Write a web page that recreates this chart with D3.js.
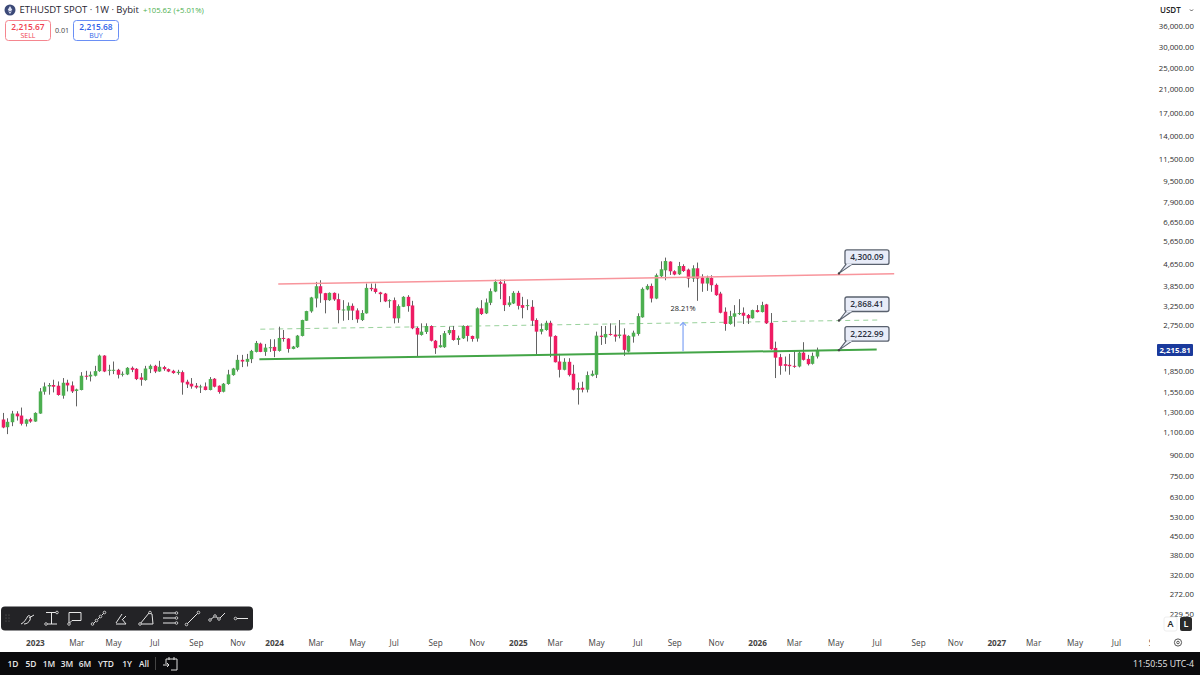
<!DOCTYPE html>
<html><head><meta charset="utf-8">
<script src="https://cdn.jsdelivr.net/npm/d3@7"></script>
<style>
html,body{margin:0;padding:0;background:#fff;overflow:hidden}
svg{display:block}
text{font-family:"Open Sans","Noto Sans",sans-serif}
</style></head><body><svg id="c" width="1200" height="675"></svg>
<script>
// Weekly candles: open, high, low, close
const opens=[1219,1141,1191,1283,1261,1175,1222,1198,1283,1548,1620,1640,1630,1496,1672,1634,1558,1571,1776,1765,1776,1848,2112,1853,1858,1869,1791,1796,1901,1885,1750,1711,1880,1934,1842,1913,1880,1853,1817,1832,1687,1658,1630,1612,1620,1571,1731,1630,1548,1654,1786,1869,2036,2002,2048,2180,
2341,2180,2262,2276,2199,2458,2445,2237,2270,2501,2850,3089,3452,3835,3613,3402,3622,3431,3123,3110,3240,3115,2867,3037,3780,3760,3635,3600,3373,3402,2910,3213,3500,3250,2678,2522,2588,2724,2400,2270,2270,2560,2632,2416,2450,2724,2501,2445,
3170,3037,3325,3665,3969,3924,3260,3307,3622,3260,3232,3213,2867,2595,2632,2800,2501,2007,1869,2002,1806,1575,1602,1575,1776,1791,2507,2470,2544,2530,2501,2530,2185,2487,2544,2935,3730,3845,3450,4178,4398,4740,4361,4250,4563,4424,4095,4474,4130,3924,4118,3880,3600,3080,2771,2950,3020,3053,2993,2910,3123,3071,3280,2800,2256,2084,1962,1951,1934,1923,2166,2053,1968,2095];
const highs=[1290,1232,1313,1309,1351,1226,1237,1297,1598,1676,1668,1716,1691,1741,1716,1691,1589,1832,1853,1842,1934,2130,2120,1951,2007,1885,1842,1913,1923,1896,1817,1934,1956,1951,2019,1934,1890,1869,1869,1858,1716,1741,1668,1644,1676,1756,1741,1634,1668,1869,1901,2125,2125,2143,2218,2395,
2361,2335,2430,2430,2708,2632,2452,2295,2522,2875,3105,3500,3979,4037,3622,3635,3635,3600,3402,3335,3307,3170,3123,3924,3924,3924,3655,3620,3425,3480,3280,3520,3551,3382,2708,2787,2787,2740,2416,2522,2610,2708,2724,2507,2740,2735,2507,3196,
3402,3450,3760,4060,4060,4060,3521,3675,3685,3500,3425,3402,2910,2787,2850,2850,2515,2143,2065,2065,1951,1676,1687,1842,1858,2595,2724,2724,2787,2735,2867,2670,2515,2617,3037,3795,3901,3924,4275,4752,4905,4752,4398,4725,4631,4462,4591,4700,4250,4200,4214,3924,3655,3196,3105,3260,3431,3196,3020,3135,3260,3355,3295,3045,2381,2143,2095,2143,2205,2190,2370,2125,2166,2262];
const lows=[1131,1075,1151,1208,1158,1148,1185,1195,1280,1509,1509,1539,1496,1458,1552,1531,1365,1566,1716,1691,1765,1837,1832,1781,1801,1735,1765,1786,1832,1711,1630,1701,1817,1817,1837,1853,1832,1806,1791,1509,1598,1589,1589,1531,1566,1566,1606,1522,1539,1644,1776,1842,1913,1923,1980,2170,
2175,2107,2180,2084,2185,2381,2166,2230,2256,2490,2845,3053,3196,3325,3037,3382,3380,2787,2850,2867,2867,2800,2843,3030,3675,3600,3345,3345,3185,2787,2800,3205,3080,2650,2095,2507,2544,2385,2143,2262,2256,2522,2400,2315,2435,2385,2381,2381,
2993,3019,3260,3644,3431,3097,3213,3290,3140,2910,3123,2724,2107,2535,2615,2084,1990,1750,1860,1765,1566,1386,1539,1539,1765,1741,2315,2335,2507,2381,2450,2107,2170,2361,2507,2925,3706,3335,3431,4150,4037,4225,4214,4225,4335,3793,3980,3382,3655,3685,3655,3530,3037,2615,2755,2708,2993,2771,2771,2900,3060,3060,2771,2218,1741,1791,1842,1791,1901,1908,2024,1940,1955,2060];
const closes=[1138,1195,1283,1253,1175,1219,1198,1290,1552,1620,1640,1616,1505,1672,1634,1552,1579,1776,1765,1791,1848,2112,1842,1869,1869,1791,1806,1901,1869,1726,1716,1890,1934,1842,1918,1880,1842,1817,1837,1676,1648,1620,1606,1620,1571,1726,1616,1544,1658,1796,1890,2036,2007,2053,2199,2355,
2180,2262,2270,2199,2458,2437,2237,2282,2507,2867,3097,3482,3835,3604,3402,3622,3422,3123,3140,3240,3110,2885,3045,3780,3738,3650,3582,3365,3402,2910,3232,3500,3232,2671,2530,2595,2724,2400,2250,2309,2560,2632,2416,2458,2724,2501,2437,3170,
3019,3335,3675,3980,3915,3260,3335,3622,3240,3185,3260,2850,2595,2655,2800,2487,1995,1869,2002,1786,1575,1598,1575,1786,1806,2507,2479,2544,2522,2487,2530,2218,2501,2572,2967,3748,3845,3450,4214,4436,4765,4361,4240,4563,4370,4095,4474,4095,3924,4130,3868,3551,3053,2771,2967,3037,3045,2975,2910,3123,3071,3260,2787,2230,2075,1934,1934,1928,1918,2166,2036,1962,2107,2216];

// Price axis
const priceTicks=[36000,30000,25000,21000,17000,14000,11500,9500,7900,6650,5650,4650,3850,3250,2750,1850,1550,1300,1100,900,750,630,530,450,380,320,272,229.5];
const lastPrice=2215.81;
// Time axis: label and week number (bars since the first one)
const timeLabels=["2023","Mar","May","Jul","Sep","Nov","2024","Mar","May","Jul","Sep","Nov","2025","Mar","May","Jul","Sep","Nov","2026","Mar","May","Jul","Sep","Nov","2027","Mar","May","Jul","Se"];
const timeWeeks=[7,16,24,33,42,51,59,68,77,85,94,103,112,120,129,138,146,155,164,172,181,190,199,207,216,224,233,242,250];
// Drawings: [start week, start price, end week, end price]
const resistance=[59.9,3905,193.8,4270];
const midDashed=[56,2650,190.4,2868];
const support=[55.8,2045,190,2224];
const callouts=[["4,300.09",4300.09],["2,868.41",2868.41],["2,222.99",2222.99]];
const calloutWeek=181.8;
const measure={week:147.9,from:2190,to:2805,label:"28.21%",labelPrice:3177};
const rangeButtons=["1D","5D","1M","3M","6M","YTD","1Y","All"];
const rangeX=[13,31,49,67,85,106,127,144];

const svg=d3.select("#c");
const x=d3.scaleLinear().domain([0,100]).range([2.7,462.7]);
const y=d3.scaleLog().domain([36000,229.5]).range([25.8,613.7]);
const UP="#4caf50",DOWN="#ee1c63",WICK="#636363";
const candles=opens.map((o,i)=>({i,o,h:highs[i],l:lows[i],c:closes[i]}));

const lineGen=(g,a,color,w,dash,op)=>g.append("line").attr("x1",x(a[0])).attr("y1",y(a[1])).attr("x2",x(a[2])).attr("y2",y(a[3]))
  .attr("stroke",color).attr("stroke-width",w).attr("stroke-dasharray",dash||null).attr("opacity",op||1);
const back=svg.append("g");
lineGen(back,midDashed,"#8fce92",1,"5 4",.9);

const cg=svg.append("g");
cg.selectAll("line.w").data(candles).join("line").attr("class","w")
  .attr("x1",d=>Math.round(x(d.i))+.5).attr("x2",d=>Math.round(x(d.i))+.5)
  .attr("y1",d=>y(d.h)).attr("y2",d=>y(d.l)).attr("stroke",WICK).attr("stroke-width",1);
cg.selectAll("rect").data(candles).join("rect")
  .attr("x",d=>Math.round(x(d.i))+.5-1.75).attr("width",3.5)
  .attr("y",d=>y(Math.max(d.o,d.c)))
  .attr("height",d=>Math.max(1,Math.abs(y(d.o)-y(d.c))))
  .attr("fill",d=>d.c>=d.o?UP:DOWN);

const front=svg.append("g");
lineGen(front,resistance,"#f8959c",1.5,null,1);
lineGen(front,support,"#43a547",2,null,1);

// measure arrow
const ax=x(measure.week);
front.append("line").attr("x1",ax).attr("x2",ax).attr("y1",y(measure.from)).attr("y2",y(measure.to)).attr("stroke","#7fa3f5").attr("stroke-width",1.2);
front.append("path").attr("d",`M${ax-3},${y(measure.to)+3}L${ax},${y(measure.to)}L${ax+3},${y(measure.to)+3}`).attr("fill","none").attr("stroke","#7fa3f5").attr("stroke-width",1.2);
front.append("text").attr("x",ax).attr("y",y(measure.labelPrice)).attr("dy","0.35em").attr("text-anchor","middle").attr("font-size",7.4).attr("fill","#222").text(measure.label);

// price callouts
const cax=x(calloutWeek);
callouts.forEach(([t,v])=>{
  const py=y(v)+.5;
  const top=py-23.5, h=14.5, bx=cax+6, bw=44;
  const g=front.append("g");
  g.append("path").attr("d",`M${cax},${py}L${bx+1},${top+h}L${bx+7},${top+h}Z`).attr("fill","#e8ecf8").attr("stroke","#59616e").attr("stroke-width",1.1);
  g.append("rect").attr("x",bx).attr("y",top).attr("width",bw).attr("height",h).attr("rx",2).attr("fill","#e8ecf8").attr("stroke","#59616e").attr("stroke-width",1.3);
  g.append("path").attr("d",`M${bx+1.5},${top+h}L${bx+6.5},${top+h}`).attr("stroke","#e8ecf8").attr("stroke-width",1.6);
  g.append("circle").attr("cx",cax).attr("cy",py).attr("r",1.2).attr("fill","#444");
  g.append("text").attr("x",bx+bw/2).attr("y",top+h/2).attr("dy","0.36em").attr("text-anchor","middle").attr("font-size",8.4).attr("font-weight",600).attr("fill","#2b3040").text(t);
});

// right price axis
const axisG=svg.append("g").attr("transform","translate(1194,0)")
 .call(d3.axisLeft(y).tickValues(priceTicks).tickSize(0).tickPadding(0).tickFormat(d3.format(",.2f")));
axisG.select(".domain").remove();
axisG.selectAll("text").attr("font-size",7.8).attr("dy","0.35em").attr("fill","#2e2e2e").attr("font-family",'Roboto,sans-serif');

// time axis
const tg=svg.append("g").attr("transform","translate(0,646)")
 .call(d3.axisBottom(x).tickValues(timeWeeks).tickSize(0).tickPadding(0).tickFormat((d,i)=>timeLabels[i]));
tg.select(".domain").remove();
tg.selectAll("text").attr("dy","0").attr("font-size",8.2).attr("fill","#444").attr("font-family",'"Open Sans",sans-serif')
  .attr("font-weight",(d,i)=>/^\d/.test(timeLabels[i])?700:400);

// white panel hiding the cut price label
svg.append("rect").attr("x",1150).attr("y",617).attr("width",50).attr("height",36).attr("fill","#fff");

// last price tag
svg.append("rect").attr("x",1157).attr("y",y(lastPrice)-6).attr("width",36).attr("height",12).attr("rx",1).attr("fill","#1a3a9c");
svg.append("text").attr("x",1175).attr("y",y(lastPrice)).attr("dy","0.36em").attr("text-anchor","middle").attr("font-size",7.8).attr("font-weight",700).attr("font-family","Roboto,sans-serif").attr("fill","#fff").text(d3.format(",.2f")(lastPrice));

// USDT selector
svg.append("rect").attr("x",1156).attr("y",3).attr("width",39).attr("height",15).attr("rx",2).attr("fill","#fff");
svg.append("text").attr("x",1160).attr("y",10.5).attr("dy","0.36em").attr("font-size",8).attr("font-weight",600).attr("fill","#222").text("USDT");
svg.append("path").attr("d","M1190,9.5l1.5,1.5l1.5,-1.5").attr("fill","none").attr("stroke","#555");

// A / L buttons
svg.append("rect").attr("x",1164).attr("y",617).attr("width",13).attr("height",14).attr("rx",2).attr("fill","#fff").attr("stroke","#eee");
svg.append("text").attr("x",1170.5).attr("y",624).attr("dy","0.36em").attr("text-anchor","middle").attr("font-size",9).attr("font-weight",600).attr("fill","#222").text("A");
svg.append("rect").attr("x",1180).attr("y",617).attr("width",12).attr("height",14).attr("rx",2).attr("fill","#2a2a2a");
svg.append("text").attr("x",1186).attr("y",624).attr("dy","0.36em").attr("text-anchor","middle").attr("font-size",9).attr("font-weight",600).attr("fill","#fff").text("L");
svg.append("circle").attr("cx",1178).attr("cy",642.5).attr("r",3.6).attr("fill","none").attr("stroke","#555").attr("stroke-width",1);
svg.append("circle").attr("cx",1178).attr("cy",642.5).attr("r",1.3).attr("fill","none").attr("stroke","#555").attr("stroke-width",1);

// header
svg.append("circle").attr("cx",10).attr("cy",10).attr("r",5.5).attr("fill","#3c4a78");
svg.append("path").attr("d","M10,6L12.3,10L10,11.5L7.7,10ZM10,12.3L12,10.9L10,14L8,10.9Z").attr("fill","#dfe4f5");
svg.append("text").attr("x",19.5).attr("y",10).attr("dy","0.36em").attr("font-size",9.5).attr("fill","#1f2430").text("ETHUSDT SPOT · 1W · Bybit");
svg.append("text").attr("x",143).attr("y",10).attr("dy","0.36em").attr("font-size",7.7).attr("fill","#4caf50").text("+105.62 (+5.01%)");
const bidask=[[5.5,"#f5868f","#f0404f","2,215.67","SELL"],[73.5,"#6a8ff5","#2f5fe8","2,215.68","BUY"]];
bidask.forEach(([bx,st,col,p,l])=>{
  svg.append("rect").attr("x",bx).attr("y",20.5).attr("width",45).attr("height",20).attr("rx",3).attr("fill","#fff").attr("stroke",st);
  svg.append("text").attr("x",bx+22.5).attr("y",26.5).attr("dy","0.36em").attr("text-anchor","middle").attr("font-size",8.4).attr("font-weight",600).attr("fill",col).text(p);
  svg.append("text").attr("x",bx+22.5).attr("y",35).attr("dy","0.36em").attr("text-anchor","middle").attr("font-size",7).attr("fill",col).text(l);
});
svg.append("text").attr("x",62).attr("y",30.5).attr("dy","0.36em").attr("text-anchor","middle").attr("font-size",7.2).attr("fill","#444").text("0.01");

// bottom bar
svg.append("rect").attr("x",0).attr("y",652).attr("width",1200).attr("height",23).attr("fill","#0a0a0c");
rangeButtons.forEach((t,i)=>svg.append("text").attr("x",rangeX[i]).attr("y",664).attr("dy","0.36em").attr("text-anchor","middle").attr("font-size",8.4).attr("font-weight",600).attr("fill","#e8e8e8").text(t));
svg.append("line").attr("x1",155.5).attr("x2",155.5).attr("y1",657).attr("y2",670).attr("stroke","#444");
svg.append("path").attr("d","M166,664v-5h11v11h-6M169,657v3M174,657v3M163,665h6l-2,-2M169,665l-2,2").attr("fill","none").attr("stroke","#ddd").attr("stroke-width",1);
svg.append("text").attr("x",1194).attr("y",664).attr("dy","0.36em").attr("text-anchor","end").attr("font-size",8.7).attr("fill","#e8e8e8").text("11:50:55 UTC-4");

// drawing toolbar
svg.append("rect").attr("x",1).attr("y",606.5).attr("width",252).attr("height",24).attr("rx",4).attr("fill","#232326");
const toolbarIcons=[
 "M21,624c3,-1 5,-5 7,-8c2,-2 3,2 2,4c-1,2 -3,4 -6,4M29,618l5,-3",
 "M46,612.5h11M51.5,612.5v11.5M46,624h11",
 "M69,612.5h12v8h-9l-3,3z",
 "M93,624l3,-3M98,619l2,-2M102,615l2,-2",
 "M116,623l6,-9M116,624h10l-4,-5M126,616l-3,3",
 "M140,624l9,-11l3,1l1,10z",
 "M163,613h12M163,618h12M163,623h12",
 "M187,624l11,-11",
 "M210,620l5,-4l4,3l6,-6",
 "M237,618.5h11"];
svg.append("g").selectAll("path").data(toolbarIcons).join("path").attr("d",d=>d).attr("fill","none").attr("stroke","#e6e6e6").attr("stroke-width",1);
const toolbarDots=[[57,612.5],[46,624],[69,624],[92.5,624],[96.5,620.5],[100.5,616.5],[104.5,612.5],[176.5,613],[176.5,618],[176.5,623],[186.5,624.5],[198.5,612.5],[210,620],[215,616],[219,619],[235.5,618.5],[150,612.5],[140,624]];
svg.append("g").selectAll("circle.t").data(toolbarDots).join("circle").attr("class","t").attr("cx",d=>d[0]).attr("cy",d=>d[1]).attr("r",1.3).attr("fill","#232326").attr("stroke","#e6e6e6").attr("stroke-width",.8);
svg.append("g").selectAll("circle.g").data([[6,615],[9,615],[6,618],[9,618],[6,621],[9,621]]).join("circle").attr("class","g").attr("cx",d=>d[0]).attr("cy",d=>d[1]).attr("r",.6).attr("fill","#666");
</script></body></html>
